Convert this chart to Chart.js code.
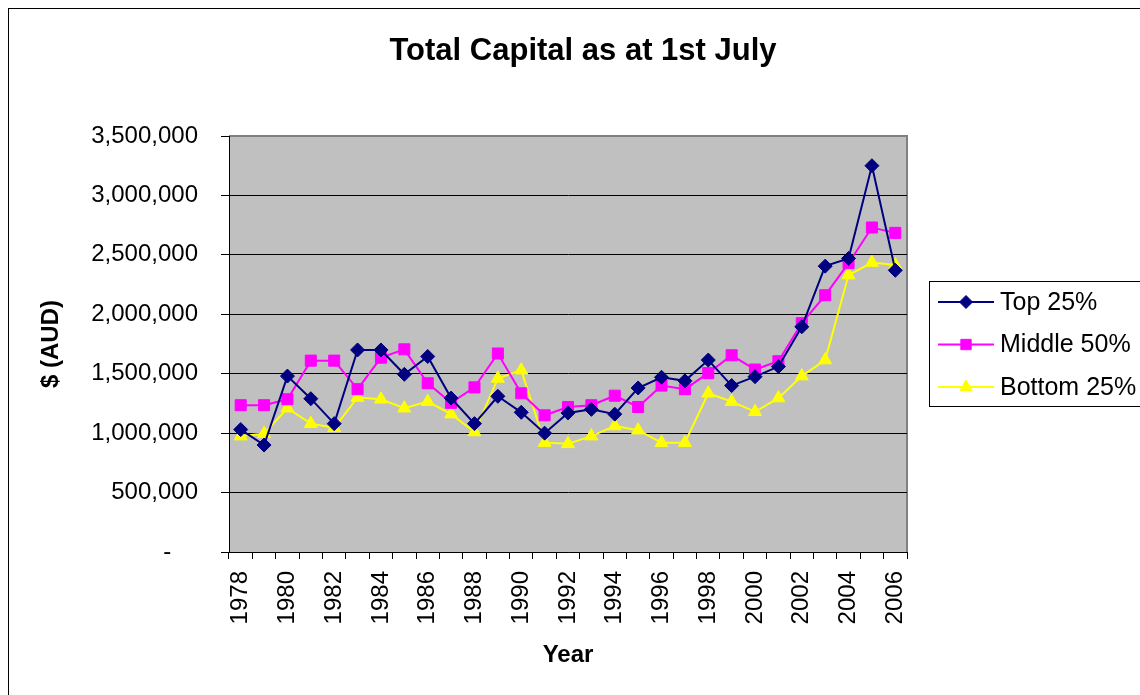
<!DOCTYPE html>
<html lang="en">
<head>
<meta charset="UTF-8">
<title>Total Capital as at 1st July</title>
<script src="https://cdn.jsdelivr.net/npm/chart.js@4.4.1/dist/chart.umd.min.js"></script>
<style>
    body { margin: 0; background: #fff; }
    #wrap { position: relative; width: 1140px; height: 695px; }
</style>
</head>
<body>
<div id="wrap"><canvas id="chart" width="1140" height="695"></canvas></div>
<script>
// data
const years = ['1978','1979','1980','1981','1982','1983','1984','1985','1986','1987',
               '1988','1989','1990','1991','1992','1993','1994','1995','1996','1997',
               '1998','1999','2000','2001','2002','2003','2004','2005','2006'];
const top25 = [1030000, 900000, 1480000, 1290000, 1080000, 1700000, 1700000, 1495000, 1645000, 1295000,
               1080000, 1310000, 1175000, 1000000, 1170000, 1200000, 1160000, 1380000, 1470000, 1440000,
               1615000, 1400000, 1475000, 1560000, 1895000, 2405000, 2470000, 3250000, 2370000];
const middle50 = [1235000, 1235000, 1285000, 1610000, 1610000, 1370000, 1635000, 1705000, 1420000, 1255000,
                  1385000, 1670000, 1335000, 1150000, 1220000, 1235000, 1315000, 1220000, 1400000, 1370000,
                  1505000, 1655000, 1535000, 1605000, 1925000, 2160000, 2430000, 2730000, 2685000];
const bottom25 = [975000, 995000, 1210000, 1080000, 1045000, 1300000, 1285000, 1210000, 1265000, 1160000,
                  1010000, 1460000, 1530000, 920000, 910000, 975000, 1060000, 1025000, 920000, 920000,
                  1335000, 1265000, 1180000, 1295000, 1480000, 1615000, 2330000, 2435000, 2415000];
const seriesNames = ['Top 25%', 'Middle 50%', 'Bottom 25%'];
const yMax = 3500000;
const yStep = 500000;

const FONT = "Arial, 'Liberation Sans', sans-serif";

// grey plot area, frame, title and the boxed legend
const decor = {
    id: 'decor',
    beforeDraw(chart) {
        const { ctx, chartArea: a } = chart;
        ctx.save();
        ctx.strokeStyle = '#000';
        ctx.lineWidth = 1;
        ctx.strokeRect(8.5, 8.5, 1200, 800);
        ctx.fillStyle = '#c0c0c0';
        ctx.fillRect(a.left, a.top, a.right - a.left, a.bottom - a.top);
        ctx.strokeStyle = '#808080';
        ctx.lineWidth = 2;
        ctx.beginPath();
        ctx.moveTo(a.left, a.top);
        ctx.lineTo(a.right, a.top);
        ctx.lineTo(a.right, a.bottom);
        ctx.stroke();
        ctx.fillStyle = '#000';
        ctx.font = 'bold 31px ' + FONT;
        ctx.textAlign = 'center';
        ctx.textBaseline = 'middle';
        ctx.fillText('Total Capital as at 1st July', 583, 51);
        ctx.restore();
    },
    afterDraw(chart) {
        const ctx = chart.ctx;
        ctx.save();
        ctx.fillStyle = '#fff';
        ctx.fillRect(929, 281, 300, 125);
        ctx.strokeStyle = '#000';
        ctx.lineWidth = 1;
        ctx.strokeRect(929.5, 281.5, 300, 125);
        ctx.font = '25px ' + FONT;
        ctx.textAlign = 'left';
        ctx.textBaseline = 'middle';
        chart.data.datasets.forEach((ds, i) => {
            const y = 302 + i * 42.5;
            ctx.strokeStyle = ds.borderColor;
            ctx.lineWidth = 2;
            ctx.beginPath();
            ctx.moveTo(938, y);
            ctx.lineTo(994, y);
            ctx.stroke();
            ctx.fillStyle = ds.pointBackgroundColor;
            ctx.strokeStyle = ds.pointBorderColor;
            ctx.lineWidth = 1;
            Chart.helpers.drawPoint(ctx, {
                pointStyle: ds.pointStyle, radius: ds.pointRadius - 0.5,
                borderWidth: 1, rotation: 0
            }, 966, y);
            ctx.fillStyle = '#000';
            ctx.fillText(ds.label, 1000, y + 1);
        });
        ctx.restore();
    }
};

function series(label, data, color, style, r) {
    return {
        label: label,
        data: data,
        borderColor: color,
        backgroundColor: color,
        pointBackgroundColor: color,
        pointBorderColor: color,
        borderWidth: 2,
        pointStyle: style,
        pointRadius: r,
        pointBorderWidth: 1,
        tension: 0
    };
}

new Chart(document.getElementById('chart'), {
    type: 'line',
    data: {
        labels: years,
        datasets: [
            series(seriesNames[0], top25, '#000080', 'rectRot', 7),
            series(seriesNames[1], middle50, '#ff00ff', 'rect', 7.8),
            series(seriesNames[2], bottom25, '#ffff00', 'triangle', 7.5)
        ]
    },
    options: {
        responsive: false,
        animation: false,
        layout: { padding: { left: 0, top: 136, right: 233, bottom: 0 } },
        plugins: {
            legend: { display: false },
            title: { display: false },
            tooltip: { enabled: false }
        },
        scales: {
            x: {
                offset: true,
                afterFit(scale) { scale.height = 143; },
                grid: {
                    offset: true,
                    drawOnChartArea: false,
                    drawTicks: true,
                    tickLength: 7,
                    tickColor: '#000'
                },
                border: { color: '#000', width: 1 },
                ticks: {
                    autoSkip: false,
                    maxRotation: 90,
                    minRotation: 90,
                    padding: 12,
                    color: '#000',
                    font: { family: FONT, size: 24 },
                    callback: function (v, i) { return i % 2 === 0 ? years[i] : ''; }
                },
                title: {
                    display: true,
                    text: 'Year',
                    color: '#000',
                    font: { family: FONT, size: 24, weight: 'bold' },
                    padding: { top: 0, bottom: 25 }
                }
            },
            y: {
                min: 0,
                max: yMax,
                afterFit(scale) { scale.width = 229; },
                grid: {
                    color: (c) => (c.tick && c.tick.value === yMax ? '#808080' : '#000'),
                    lineWidth: 1,
                    drawTicks: true,
                    tickLength: 8,
                    tickColor: '#000'
                },
                border: { color: '#000', width: 1 },
                ticks: {
                    stepSize: yStep,
                    padding: 23,
                    color: '#000',
                    font: { family: FONT, size: 24 },
                    callback: function (v) {
                        return v === 0 ? '-    ' : v.toLocaleString('en-US');
                    }
                },
                title: {
                    display: true,
                    text: '$ (AUD)',
                    color: '#000',
                    font: { family: FONT, size: 24, weight: 'bold' },
                    padding: { top: 37, bottom: 0 }
                }
            }
        }
    },
    plugins: [decor]
});
</script>
</body>
</html>
